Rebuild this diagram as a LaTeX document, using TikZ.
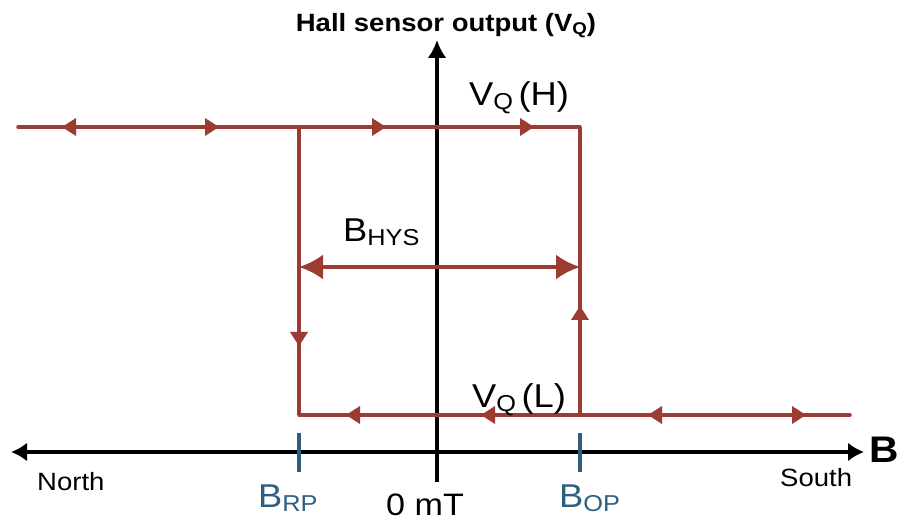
\documentclass[tikz,border=0pt]{standalone}
\usepackage{fontspec}
\setmainfont{Liberation Sans}[FakeStretch=1.1]
\usetikzlibrary{arrows.meta}
\definecolor{hred}{RGB}{155,59,50}
\definecolor{hblue}{RGB}{47,95,127}
\newcommand\sbs[3][-4pt]{\raisebox{#1}{\fontsize{#2}{#2}\selectfont #3}}
\tikzset{
  curve/.style={draw=hred, line width=3.5pt},
  headfill/.style={fill=hred, draw=none},
  axisline/.style={draw=black, line width=4pt},
  tickline/.style={draw=hblue, line width=3.5pt},
  lbl/.style={inner sep=0pt, anchor=base west, font=\fontsize{#1}{#1}\selectfont},
}
\begin{document}
\begin{tikzpicture}[x=1pt,y=-1pt]
\useasboundingbox (0,0) rectangle (900,521);
% coordinates
\coordinate (TL) at (18,127);
\coordinate (TC) at (299,127);
\coordinate (TR) at (580,127);
\coordinate (BR) at (580,415);
\coordinate (BL) at (299,415);
\coordinate (BE) at (850,415);
\coordinate (HL) at (299,267);
\coordinate (HR) at (580,267);
\coordinate (XL) at (11,452);
\coordinate (XR) at (864,452);
\coordinate (YB) at (437,482);
\coordinate (YT) at (437,40);
\coordinate (T1a) at (299,433);
\coordinate (T1b) at (299,472);
\coordinate (T2a) at (580,433);
\coordinate (T2b) at (580,472);
% axes
\draw[axisline, {Latex[length=16pt,width=19pt]}-{Latex[length=16pt,width=19pt]}] (XL) -- (XR);
\draw[axisline, -{Latex[length=18pt,width=19pt]}] (YB) -- (YT);
% ticks
\draw[tickline] (T1a) -- (T1b);
\draw[tickline] (T2a) -- (T2b);
% hysteresis loop
\draw[curve, line cap=round] (TL) -- (TR);
\draw[curve] (TR) -- (BR);
\draw[curve] (TC) -- (BL);
\draw[curve, line cap=round] (BL) -- (BE);
% direction arrowheads along the curve
\fill[headfill] (62,127) -- (76,118) -- (76,136) -- cycle;
\fill[headfill] (219,127) -- (205,118) -- (205,136) -- cycle;
\fill[headfill] (386,127) -- (372,118) -- (372,136) -- cycle;
\fill[headfill] (534,127) -- (520,118) -- (520,136) -- cycle;
\fill[headfill] (580,306) -- (571,320) -- (589,320) -- cycle;
\fill[headfill] (299,346) -- (290,332) -- (308,332) -- cycle;
\fill[headfill] (346,415) -- (360,406) -- (360,424) -- cycle;
\fill[headfill] (481,415) -- (495,406) -- (495,424) -- cycle;
\fill[headfill] (648,415) -- (662,406) -- (662,424) -- cycle;
\fill[headfill] (806,415) -- (792,406) -- (792,424) -- cycle;
% B_HYS arrow
\draw[curve, {Latex[length=24pt,width=25pt]}-{Latex[length=24pt,width=25pt]}] (HL) -- (HR);
% labels
\node[inner sep=0pt, anchor=base, font=\fontsize{25}{25}\selectfont\bfseries] (title) at (446,32) {Hall sensor output (V\sbs[-3pt]{17}{Q})};
\node[lbl=33] (vqh) at (469,106) {V\sbs{23}{Q}\,(H)};
\node[lbl=33] (vql) at (472,407) {V\sbs{23}{Q}\,(L)};
\node[lbl=33] (bhys) at (343,242) {B\sbs{23}{HYS}};
\node[lbl=33, text=hblue] (brp) at (258,507) {B\sbs{23}{RP}};
\node[lbl=33, text=hblue] (bop) at (559,507) {B\sbs{23}{OP}};
\node[lbl=31] (zero) at (386,515) {0 mT};
\node[lbl=25] (north) at (37,490) {North};
\node[lbl=25] (south) at (780,486) {South};
\node[inner sep=0pt, anchor=base west, font=\fontsize{37}{37}\selectfont\bfseries] (bax) at (869,462) {B};
\end{tikzpicture}
\end{document}
